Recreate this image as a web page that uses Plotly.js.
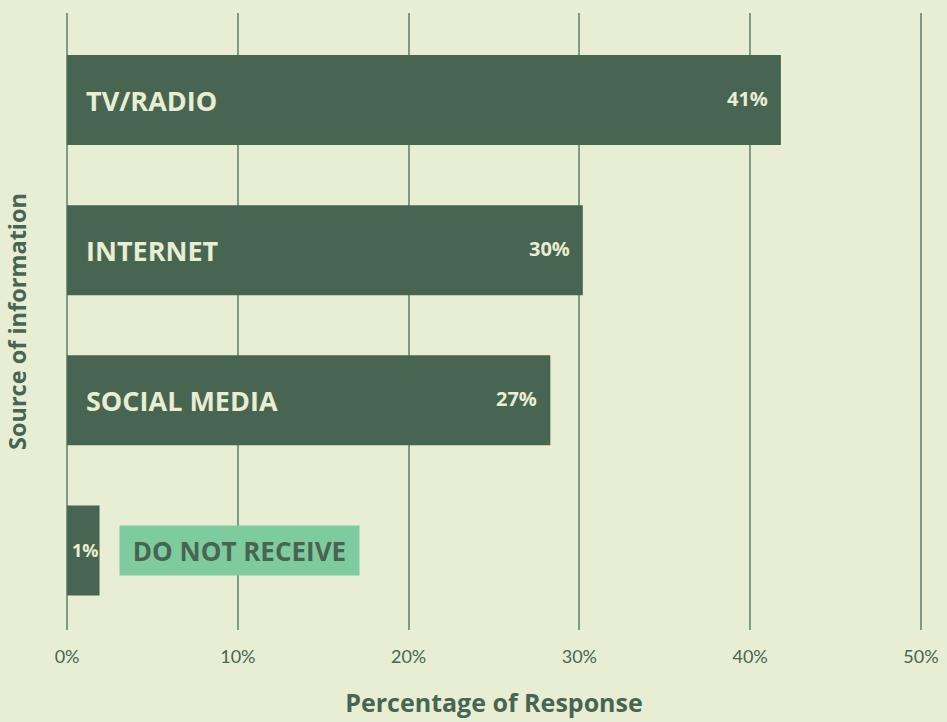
<!DOCTYPE html>
<html>
<head>
<meta charset="utf-8">
<script src="https://cdn.plot.ly/plotly-3.0.1.min.js"></script>
<style>html,body{margin:0;padding:0;background:#e8eed4;}#chart{width:947px;height:722px;}</style>
</head>
<body>
<div id="chart"></div>
<script>
const categories = ["TV/RADIO", "INTERNET", "SOCIAL MEDIA", "DO NOT RECEIVE"];
const values = [41.8, 30.2, 28.3, 1.9];
const valueLabels = ["41%", "30%", "27%", "1%"];
const tickVals = [0, 10, 20, 30, 40, 50];
const tickText = ["0%", "10%", "20%", "30%", "40%", "50%"];

const dark = "#476550";
const cream = "#e8eed4";
const grid = "#7f9a84";
const font = "Open Sans, Lato, sans-serif";

const ypos = categories.map((c, i) => i);

const trace = {
  type: "bar",
  orientation: "h",
  x: values,
  y: ypos,
  width: 0.6,
  marker: {color: dark},
  hoverinfo: "skip"
};

const annotations = [];
categories.forEach((c, i) => {
  const last = i === categories.length - 1;
  if (!last) {
    annotations.push({
      x: 0, y: i, xref: "x", yref: "y", xanchor: "left", yanchor: "middle",
      xshift: 17, text: "<b>" + c + "</b>", showarrow: false,
      font: {family: font, size: 27, color: cream}
    });
    annotations.push({
      x: values[i], y: i, xref: "x", yref: "y", xanchor: "right", yanchor: "middle",
      xshift: -11, yshift: 2, text: "<b>" + valueLabels[i] + "</b>", showarrow: false,
      font: {family: font, size: 20, color: cream}
    });
  } else {
    annotations.push({
      x: values[i] / 2, y: i, xref: "x", yref: "y", xanchor: "center", yanchor: "middle",
      xshift: 2, text: "<b>" + valueLabels[i] + "</b>", showarrow: false,
      font: {family: font, size: 18, color: cream}
    });
    annotations.push({
      x: values[i], y: i, xref: "x", yref: "y", xanchor: "left", yanchor: "middle",
      xshift: 19, text: "<b>" + c + "</b>", showarrow: false,
      bgcolor: "#7fcba0", borderpad: 12, width: 215, height: 25,
      font: {family: font, size: 26, color: dark}
    });
  }
});

const layout = {
  width: 947, height: 722,
  paper_bgcolor: cream, plot_bgcolor: cream,
  margin: {l: 50, r: 9, t: 13, b: 92},
  showlegend: false,
  xaxis: {
    range: [-1, 51], tickvals: tickVals, ticktext: tickText,
    showgrid: true, gridcolor: grid, gridwidth: 2,
    zeroline: false, showline: false, ticks: "",
    ticklabelstandoff: 14,
    tickfont: {family: "Lato, sans-serif", size: 18, color: dark},
    title: {text: "<b>Percentage of Response</b>", standoff: 28,
            font: {family: font, size: 25, color: dark}}
  },
  yaxis: {
    range: [3.53, -0.58], showticklabels: false, showgrid: false,
    zeroline: false, showline: false, ticks: "",
    title: {text: "<b>Source of information</b>", standoff: 15,
            font: {family: font, size: 23.5, color: dark}}
  },
  annotations: annotations
};

Plotly.newPlot("chart", [trace], layout, {displayModeBar: false, staticPlot: true});
</script>
</body>
</html>
